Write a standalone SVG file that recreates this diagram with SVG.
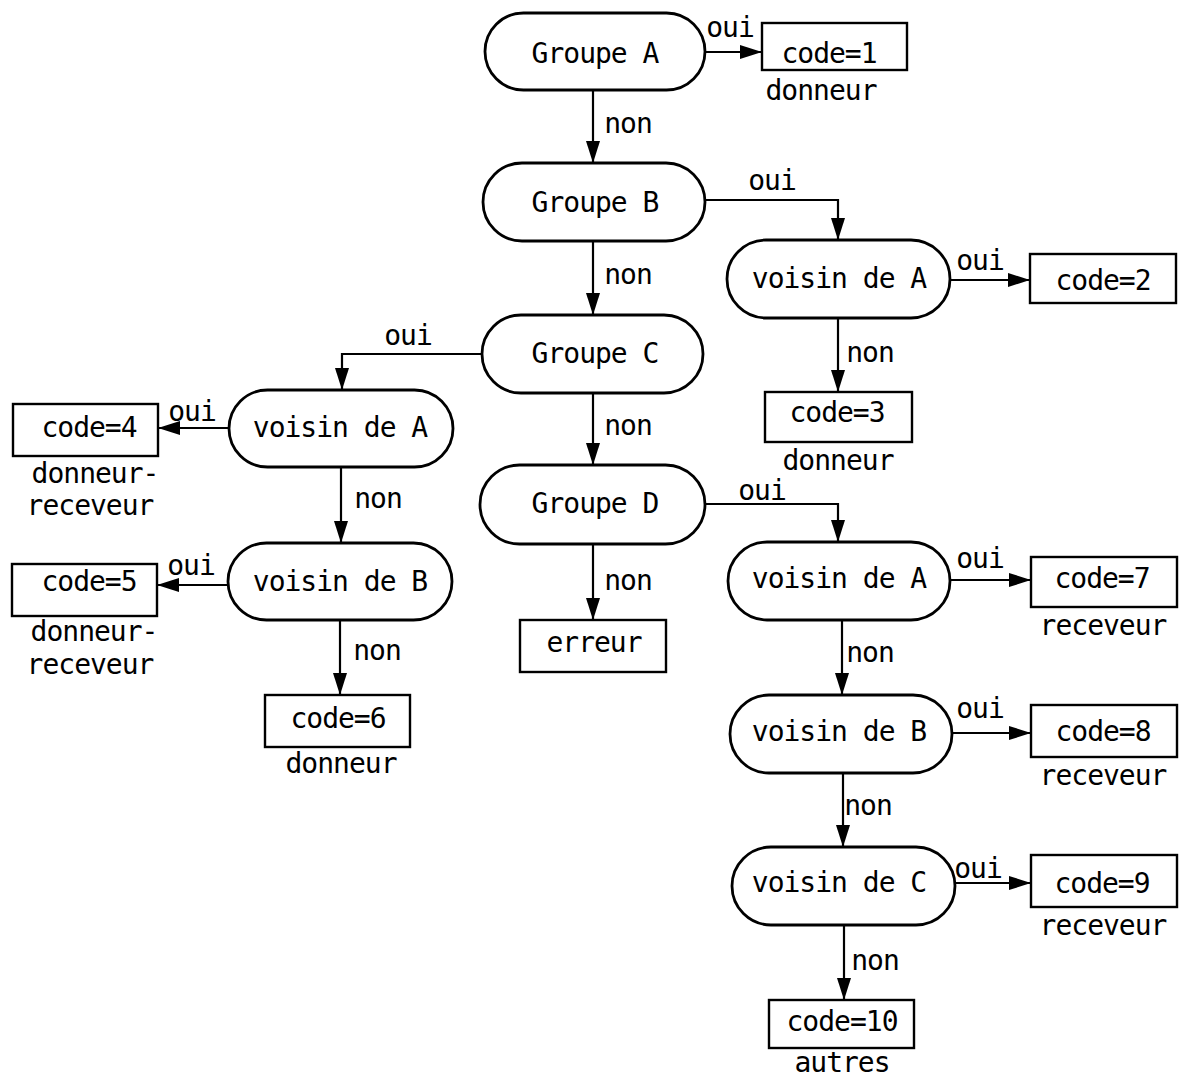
<svg xmlns="http://www.w3.org/2000/svg" width="1180" height="1079" viewBox="0 0 1180 1079">
<style>
.n{fill:#fff;stroke:#000;stroke-width:2.8}
.b{fill:#fff;stroke:#000;stroke-width:2.4}
.c{fill:none;stroke:#000;stroke-width:2.2}
text{font-family:"DejaVu Sans Mono","Liberation Mono",monospace;font-size:28px;letter-spacing:-1px;fill:#000;text-anchor:middle}
</style>
<defs>
<marker id="ah" markerUnits="userSpaceOnUse" markerWidth="22" markerHeight="14" refX="22" refY="7" orient="auto">
<path d="M0,0 L22,7 L0,14 z" fill="#000"/>
</marker>
</defs>
<rect width="1180" height="1079" fill="#fff"/>
<g id="connectors">
<path class="c" d="M705,52 H762" marker-end="url(#ah)"/>
<path class="c" d="M593,90 V163" marker-end="url(#ah)"/>
<path class="c" d="M705,200 H838 V240" marker-end="url(#ah)"/>
<path class="c" d="M950,280 H1030" marker-end="url(#ah)"/>
<path class="c" d="M838,318 V392" marker-end="url(#ah)"/>
<path class="c" d="M593,241 V315" marker-end="url(#ah)"/>
<path class="c" d="M482,354 H342 V390" marker-end="url(#ah)"/>
<path class="c" d="M229,428 H158" marker-end="url(#ah)"/>
<path class="c" d="M341,467 V543" marker-end="url(#ah)"/>
<path class="c" d="M228,585 H157" marker-end="url(#ah)"/>
<path class="c" d="M340,620 V695" marker-end="url(#ah)"/>
<path class="c" d="M593,393 V465" marker-end="url(#ah)"/>
<path class="c" d="M593,544 V620" marker-end="url(#ah)"/>
<path class="c" d="M705,504 H838 V542" marker-end="url(#ah)"/>
<path class="c" d="M950,580 H1031" marker-end="url(#ah)"/>
<path class="c" d="M842,620 V695" marker-end="url(#ah)"/>
<path class="c" d="M952,733 H1031" marker-end="url(#ah)"/>
<path class="c" d="M843,773 V847" marker-end="url(#ah)"/>
<path class="c" d="M955,883 H1031" marker-end="url(#ah)"/>
<path class="c" d="M844,925 V1000" marker-end="url(#ah)"/>
<text x="730" y="37">oui</text>
<text x="628" y="133">non</text>
<text x="772" y="190">oui</text>
<text x="628" y="284">non</text>
<text x="980" y="270">oui</text>
<text x="870" y="362">non</text>
<text x="408" y="345">oui</text>
<text x="628" y="435">non</text>
<text x="192" y="421">oui</text>
<text x="378" y="508">non</text>
<text x="191" y="575">oui</text>
<text x="377" y="660">non</text>
<text x="762" y="500">oui</text>
<text x="628" y="590">non</text>
<text x="980" y="568">oui</text>
<text x="870" y="662">non</text>
<text x="980" y="718">oui</text>
<text x="868" y="815">non</text>
<text x="978" y="878">oui</text>
<text x="875" y="970">non</text>
</g>
<g id="groupeA"><rect class="n" x="485" y="13" width="220" height="77" rx="38.5"/><text x="595" y="63">Groupe A</text></g>
<g id="groupeB"><rect class="n" x="483" y="163" width="222" height="78" rx="39"/><text x="595" y="212">Groupe B</text></g>
<g id="groupeC"><rect class="n" x="482" y="315" width="221" height="78" rx="39"/><text x="595" y="363">Groupe C</text></g>
<g id="groupeD"><rect class="n" x="480" y="465" width="225" height="79" rx="39.5"/><text x="595" y="513">Groupe D</text></g>
<g id="voisinA1"><rect class="n" x="727" y="240" width="223" height="78" rx="39"/><text x="839" y="288">voisin de A</text></g>
<g id="voisinA2"><rect class="n" x="229" y="390" width="224" height="77" rx="38.5"/><text x="340" y="437">voisin de A</text></g>
<g id="voisinB2"><rect class="n" x="228" y="543" width="224" height="77" rx="38.5"/><text x="340" y="591">voisin de B</text></g>
<g id="voisinA3"><rect class="n" x="728" y="542" width="222" height="78" rx="39"/><text x="839" y="588">voisin de A</text></g>
<g id="voisinB3"><rect class="n" x="730" y="695" width="222" height="78" rx="39"/><text x="839" y="741">voisin de B</text></g>
<g id="voisinC3"><rect class="n" x="732" y="847" width="223" height="78" rx="39"/><text x="839" y="892">voisin de C</text></g>
<g id="code1"><rect class="b" x="762" y="23" width="145" height="47"/><text x="829" y="63">code=1</text><text x="821" y="100">donneur</text></g>
<g id="code2"><rect class="b" x="1030" y="254" width="146" height="49"/><text x="1103" y="290">code=2</text></g>
<g id="code3"><rect class="b" x="765" y="392" width="147" height="50"/><text x="837" y="422">code=3</text><text x="838" y="470">donneur</text></g>
<g id="code4"><rect class="b" x="13" y="404" width="145" height="52"/><text x="89" y="437">code=4</text><text x="95" y="483">donneur-</text><text x="90" y="515">receveur</text></g>
<g id="code5"><rect class="b" x="12" y="564" width="145" height="52"/><text x="89" y="591">code=5</text><text x="94" y="641">donneur-</text><text x="90" y="674">receveur</text></g>
<g id="code6"><rect class="b" x="265" y="695" width="145" height="52"/><text x="338" y="728">code=6</text><text x="341" y="773">donneur</text></g>
<g id="erreur"><rect class="b" x="520" y="620" width="146" height="52"/><text x="594" y="652">erreur</text></g>
<g id="code7"><rect class="b" x="1031" y="557" width="146" height="50"/><text x="1102" y="588">code=7</text><text x="1103" y="635">receveur</text></g>
<g id="code8"><rect class="b" x="1031" y="705" width="146" height="52"/><text x="1103" y="741">code=8</text><text x="1103" y="785">receveur</text></g>
<g id="code9"><rect class="b" x="1031" y="855" width="146" height="52"/><text x="1102" y="893">code=9</text><text x="1103" y="935">receveur</text></g>
<g id="code10"><rect class="b" x="769" y="1000" width="145" height="48"/><text x="842" y="1031">code=10</text><text x="842" y="1072">autres</text></g>
</svg>
